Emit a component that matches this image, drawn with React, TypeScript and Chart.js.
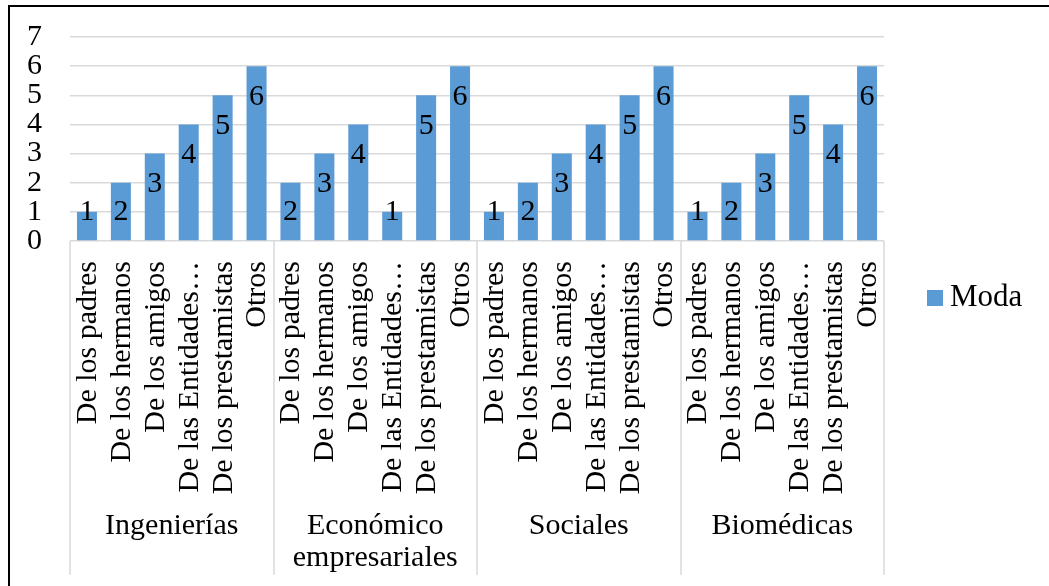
import React, { useEffect, useRef } from "react";
import { Chart, registerables } from "chart.js";

Chart.register(...registerables);

// ---- data ----
const subcategories = [
  "De los padres",
  "De los hermanos",
  "De los amigos",
  "De las Entidades…",
  "De los prestamistas",
  "Otros",
];
const groups = [["Ingenierías"], ["Económico", "empresariales"], ["Sociales"], ["Biomédicas"]];
const modaValues = [
  1, 2, 3, 4, 5, 6,
  2, 3, 4, 1, 5, 6,
  1, 2, 3, 4, 5, 6,
  1, 2, 3, 5, 4, 6,
];
const yMin = 0;
const yMax = 7;
const yStep = 1;
const seriesName = "Moda";

const FONT_FAMILY = "'Liberation Serif', 'Times New Roman', serif";
const FONT_SIZE = 30;
const BAR_COLOR = "#5b9bd5";
const GRID_COLOR = "#d9d9d9";

const categoryLabels = groups.flatMap(() => subcategories);

const decorPlugin = {
  id: "decor",
  beforeDraw(chart: any) {
    const ctx = chart.ctx;
    ctx.save();
    ctx.fillStyle = "#000";
    ctx.fillRect(8, 5, chart.width - 8, 2);
    ctx.fillRect(8, 5, 2, chart.height - 5);
    ctx.restore();
  },
  afterDatasetsDraw(chart: any) {
    const ctx = chart.ctx;
    const meta = chart.getDatasetMeta(0);
    ctx.save();
    ctx.fillStyle = "#000";
    ctx.font = `${FONT_SIZE}px ${FONT_FAMILY}`;
    ctx.textAlign = "center";
    ctx.textBaseline = "middle";
    meta.data.forEach((bar: any, i: number) => {
      const v = chart.data.datasets[0].data[i];
      const cy = Math.min(bar.y + 31, bar.base - 28);
      ctx.fillText(String(v), bar.x, cy);
    });
    ctx.restore();
  },
  afterDraw(chart: any) {
    const ctx = chart.ctx;
    const xs = chart.scales.x;
    const area = chart.chartArea;
    const n = subcategories.length;
    const cw = xs.getPixelForValue(1) - xs.getPixelForValue(0);
    ctx.save();
    // separators
    ctx.strokeStyle = GRID_COLOR;
    ctx.lineWidth = 1.5;
    for (let g = 0; g <= groups.length; g++) {
      const px = Math.round(xs.getPixelForValue(g * n) - cw / 2);
      ctx.beginPath();
      ctx.moveTo(px, area.bottom);
      ctx.lineTo(px, area.bottom + 334);
      ctx.stroke();
    }
    // rotated category labels
    ctx.fillStyle = "#000";
    ctx.font = `${FONT_SIZE}px ${FONT_FAMILY}`;
    categoryLabels.forEach((lab, i) => {
      const px = xs.getPixelForValue(i);
      ctx.save();
      ctx.translate(px + 1, area.bottom + 20);
      ctx.rotate(-Math.PI / 2);
      ctx.textAlign = "right";
      ctx.textBaseline = "middle";
      ctx.fillText(lab, 0, 0);
      ctx.restore();
    });
    // group labels
    ctx.textAlign = "center";
    ctx.textBaseline = "middle";
    groups.forEach((lines, g) => {
      const cx = xs.getPixelForValue(g * n) - cw / 2 + (cw * n) / 2;
      lines.forEach((t, li) => {
        ctx.fillText(t, cx, area.bottom + 285 + li * 32);
      });
    });
    // legend
    ctx.fillStyle = BAR_COLOR;
    const ly = chart.height / 2 + 5;
    ctx.fillRect(area.right + 43, ly - 8, 16, 16);
    ctx.fillStyle = "#000";
    ctx.textAlign = "left";
    ctx.font = `31px ${FONT_FAMILY}`;
    ctx.fillText(seriesName, area.right + 66, ly);
    ctx.restore();
  },
};

export default function App() {
  const ref = useRef<HTMLCanvasElement | null>(null);
  useEffect(() => {
    if (!ref.current) return;
    const chart = new Chart(ref.current, {
      type: "bar",
      data: {
        labels: categoryLabels,
        datasets: [
          {
            label: seriesName,
            data: modaValues,
            backgroundColor: BAR_COLOR,
            borderWidth: 0,
            barPercentage: 0.59,
            categoryPercentage: 1,
          },
        ],
      },
      options: {
        responsive: false,
        animation: false,
        layout: { padding: { left: 0, top: 37, right: 165, bottom: 345 } },
        plugins: { legend: { display: false }, tooltip: { enabled: false } },
        scales: {
          x: {
            ticks: { display: false },
            grid: { display: false },
            border: { display: false },
            afterFit: (s: any) => {
              s.height = 0;
            },
          },
          y: {
            min: yMin,
            max: yMax,
            afterFit: (s: any) => {
              s.width = 70;
            },
            ticks: {
              stepSize: yStep,
              autoSkip: false,
              padding: 0,
              color: "#000",
              font: { family: FONT_FAMILY, size: FONT_SIZE },
            },
            grid: {
              color: GRID_COLOR,
              lineWidth: 1.5,
              drawTicks: true,
              tickLength: 28,
              tickColor: "rgba(0,0,0,0)",
            },
            border: { display: false },
          },
        },
      },
      plugins: [decorPlugin],
    });
    return () => chart.destroy();
  }, []);
  return (
    <div style={{ position: "absolute", left: 0, top: 0, width: 1049, height: 586, background: "#fff" }}>
      <canvas ref={ref} width={1049} height={586} />
    </div>
  );
}
